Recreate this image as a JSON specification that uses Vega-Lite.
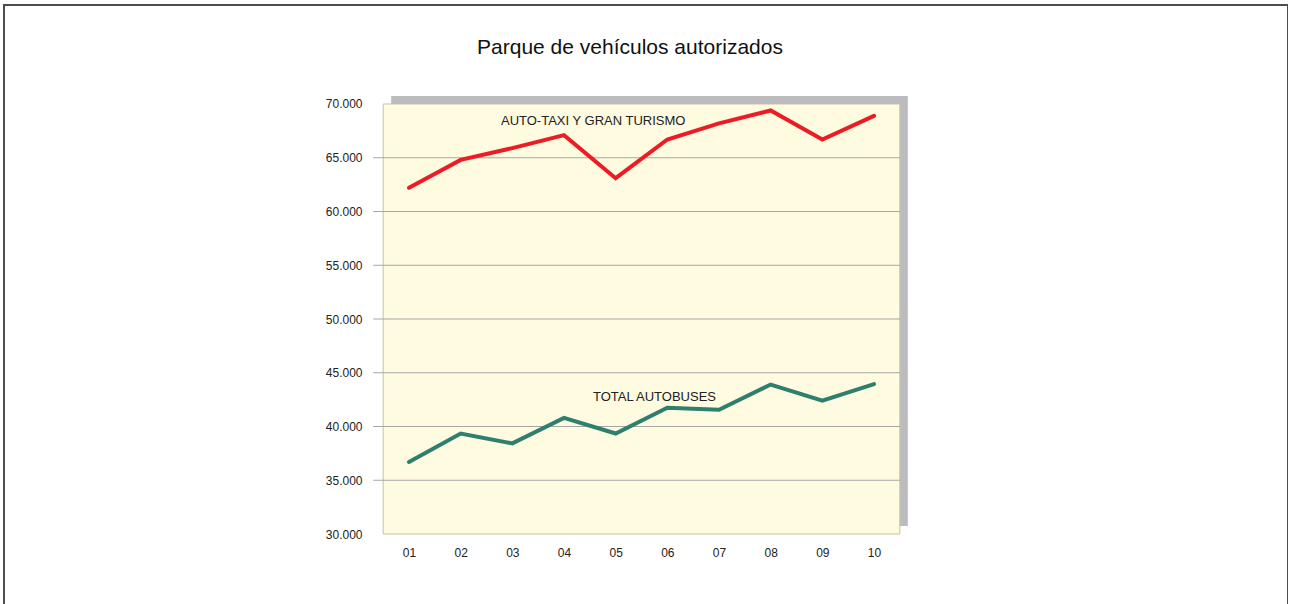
{
  "$schema": "https://vega.github.io/schema/vega-lite/v6.json",
  "width": 1284,
  "height": 601,
  "autosize": {"type": "none"},
  "padding": {"left": 4, "top": 5, "right": 0, "bottom": 0},
  "background": "#ffffff",
  "config": {
    "view": {"stroke": "#4d4d4d", "strokeWidth": 2},
    "font": "Liberation Sans",
    "axis": {"domain": false, "grid": false, "ticks": false, "tickSize": 0, "labelFont": "Liberation Sans", "labelFontSize": 12, "labelColor": "#222222", "labelOverlap": false, "labelFlush": false}
  },
  "title": {
    "text": "Parque de vehículos autorizados",
    "font": "Liberation Sans",
    "fontSize": 21,
    "fontWeight": "normal",
    "color": "#111111",
    "anchor": "middle",
    "orient": "top",
    "offset": 0,
    "baseline": "middle",
    "dx": -16,
    "dy": 64
  },
  "datasets": {
    "series": [
      {"anio": 1, "serie": "AUTO-TAXI Y GRAN TURISMO", "valor": 62200},
      {"anio": 2, "serie": "AUTO-TAXI Y GRAN TURISMO", "valor": 64800},
      {"anio": 3, "serie": "AUTO-TAXI Y GRAN TURISMO", "valor": 65900},
      {"anio": 4, "serie": "AUTO-TAXI Y GRAN TURISMO", "valor": 67100},
      {"anio": 5, "serie": "AUTO-TAXI Y GRAN TURISMO", "valor": 63100},
      {"anio": 6, "serie": "AUTO-TAXI Y GRAN TURISMO", "valor": 66700},
      {"anio": 7, "serie": "AUTO-TAXI Y GRAN TURISMO", "valor": 68200},
      {"anio": 8, "serie": "AUTO-TAXI Y GRAN TURISMO", "valor": 69400},
      {"anio": 9, "serie": "AUTO-TAXI Y GRAN TURISMO", "valor": 66700},
      {"anio": 10, "serie": "AUTO-TAXI Y GRAN TURISMO", "valor": 68900},
      {"anio": 1, "serie": "TOTAL AUTOBUSES", "valor": 36700},
      {"anio": 2, "serie": "TOTAL AUTOBUSES", "valor": 39350},
      {"anio": 3, "serie": "TOTAL AUTOBUSES", "valor": 38430},
      {"anio": 4, "serie": "TOTAL AUTOBUSES", "valor": 40800},
      {"anio": 5, "serie": "TOTAL AUTOBUSES", "valor": 39350},
      {"anio": 6, "serie": "TOTAL AUTOBUSES", "valor": 41750},
      {"anio": 7, "serie": "TOTAL AUTOBUSES", "valor": 41550},
      {"anio": 8, "serie": "TOTAL AUTOBUSES", "valor": 43900},
      {"anio": 9, "serie": "TOTAL AUTOBUSES", "valor": 42400},
      {"anio": 10, "serie": "TOTAL AUTOBUSES", "valor": 43950}
    ],
    "rejilla": [
      {"valor": 35000}, {"valor": 40000}, {"valor": 45000}, {"valor": 50000},
      {"valor": 55000}, {"valor": 60000}, {"valor": 65000}
    ]
  },
  "layer": [
    {
      "data": {"values": [{}]},
      "mark": {"type": "rect", "fill": "#bcbcc0", "xOffset": 8, "x2Offset": 8, "yOffset": -8, "y2Offset": -8},
      "encoding": {
        "x": {"datum": 0.5, "type": "quantitative", "scale": {"domain": [-6.8387, 18.0129], "nice": false, "zero": false}, "title": null},
        "x2": {"datum": 10.5},
        "y": {"datum": 30000, "type": "quantitative", "scale": {"domain": [23302.33, 79209.3], "nice": false, "zero": false}, "title": null},
        "y2": {"datum": 70000}
      }
    },
    {
      "data": {"values": [{}]},
      "mark": {"type": "rect", "fill": "#fffbe0", "stroke": "#c8c2a2", "strokeWidth": 1},
      "encoding": {
        "x": {"datum": 0.5, "type": "quantitative", "title": null},
        "x2": {"datum": 10.5},
        "y": {"datum": 30000, "type": "quantitative", "title": null},
        "y2": {"datum": 70000}
      }
    },
    {
      "data": {"name": "rejilla"},
      "mark": {"type": "rule", "stroke": "#a6a6a6", "strokeWidth": 1, "xOffset": -10},
      "encoding": {
        "x": {"datum": 0.5, "type": "quantitative", "title": null},
        "x2": {"datum": 10.5},
        "y": {"field": "valor", "type": "quantitative", "title": null}
      }
    },
    {
      "data": {"name": "series"},
      "mark": {"type": "line", "strokeWidth": 4, "strokeCap": "round", "strokeJoin": "miter"},
      "encoding": {
        "x": {
          "field": "anio", "type": "quantitative", "title": null,
          "axis": {"orient": "bottom", "offset": -72, "values": [1, 2, 3, 4, 5, 6, 7, 8, 9, 10], "labelExpr": "(datum.value < 10 ? '0' : '') + datum.value", "labelPadding": 13, "labelBaseline": "top"}
        },
        "y": {
          "field": "valor", "type": "quantitative", "title": null,
          "axis": {"orient": "left", "offset": -380, "values": [30000, 35000, 40000, 45000, 50000, 55000, 60000, 65000, 70000], "labelExpr": "replace(format(datum.value, ','), ',', '.')", "labelPadding": 22}
        },
        "color": {
          "field": "serie", "type": "nominal",
          "scale": {"domain": ["AUTO-TAXI Y GRAN TURISMO", "TOTAL AUTOBUSES"], "range": ["#ed1c24", "#2e7f6d"]},
          "legend": null
        }
      }
    },
    {
      "data": {"values": [{"etiqueta": "AUTO-TAXI Y GRAN TURISMO"}]},
      "mark": {"type": "text", "align": "left", "baseline": "middle", "fontSize": 13, "font": "Liberation Sans", "color": "#222222"},
      "encoding": {
        "x": {"datum": 2.78, "type": "quantitative", "title": null},
        "y": {"datum": 68420, "type": "quantitative", "title": null},
        "text": {"field": "etiqueta"}
      }
    },
    {
      "data": {"values": [{"etiqueta": "TOTAL AUTOBUSES"}]},
      "mark": {"type": "text", "align": "left", "baseline": "middle", "fontSize": 13, "font": "Liberation Sans", "color": "#222222"},
      "encoding": {
        "x": {"datum": 4.56, "type": "quantitative", "title": null},
        "y": {"datum": 42740, "type": "quantitative", "title": null},
        "text": {"field": "etiqueta"}
      }
    }
  ]
}
